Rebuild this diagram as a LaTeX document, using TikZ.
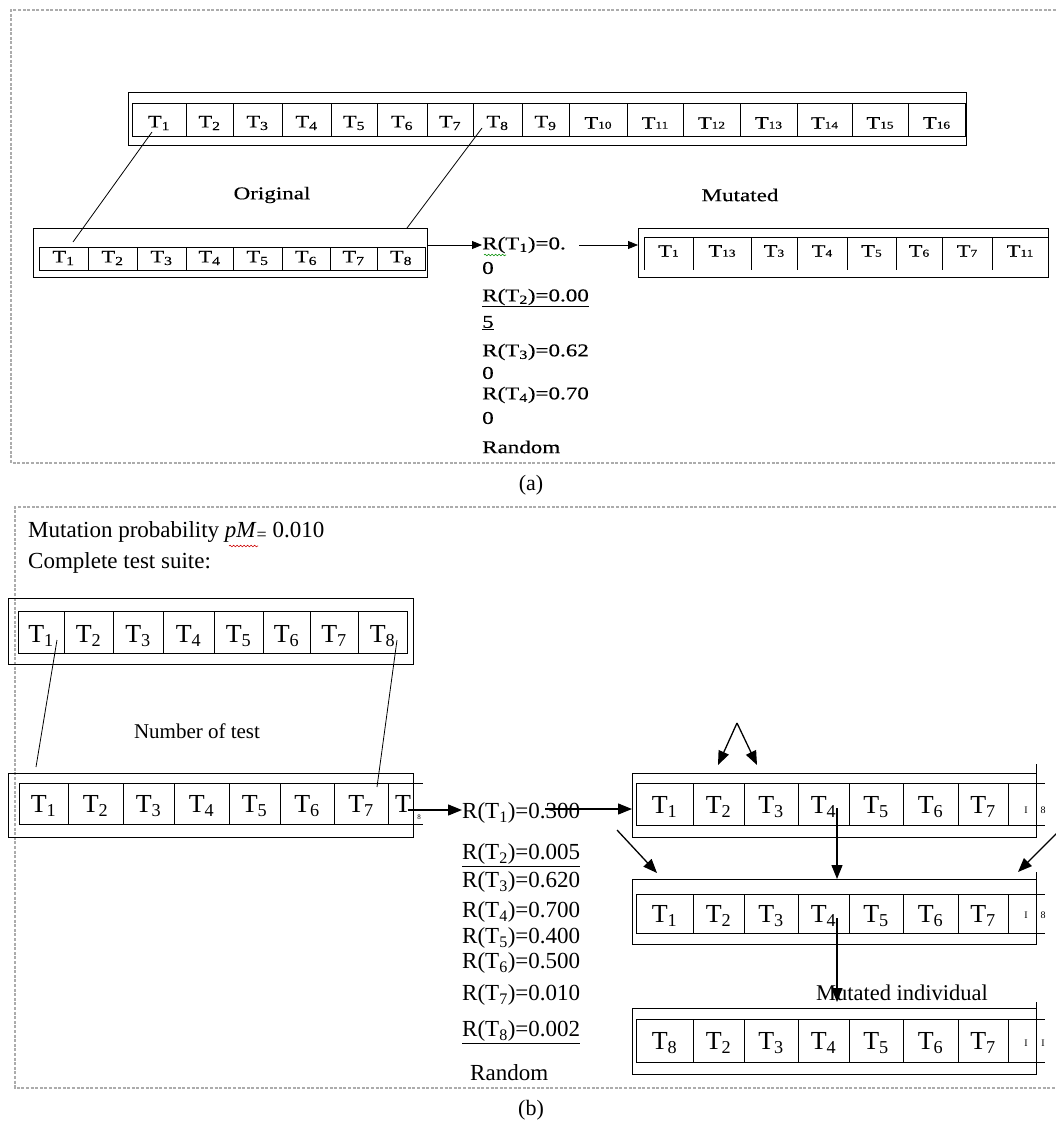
\documentclass[tikz,border=0pt]{standalone}
\usepackage{fontspec}
\setmainfont{Liberation Serif}
\newfontfamily\afont[FakeStretch=1.28,FakeBold=0.35]{Liberation Serif}
\usetikzlibrary{arrows.meta,decorations.pathmorphing}
\newcommand\Ts[1]{T\textsubscript{#1}}
\newcommand\Tq[1]{T{\fontsize{10.5}{10.5}\selectfont #1}}
\tikzset{
  frame/.style={draw=gray!65, line width=2.2pt, dash pattern=on 3pt off 1.6pt},
  grid/.style={draw, line width=0.9pt},
  obox/.style={draw, line width=1pt, inner sep=0pt, outer sep=0pt},
  celA/.style={font=\afont\fontsize{17.5}{17.5}\selectfont, inner sep=0pt},
  celB/.style={font=\fontsize{26}{26}\selectfont, inner sep=0pt},
  txtA/.style={font=\afont\fontsize{18}{18}\selectfont, inner sep=0pt},
  txtAw/.style={txtA, anchor=west},
  txtB/.style={font=\fontsize{23}{23}\selectfont, inner sep=0pt, anchor=west},
  tiny/.style={font=\fontsize{10}{10}\selectfont, inner sep=0pt},
  arrA/.style={-{Triangle[length=10pt,width=8pt]}, line width=0.8pt},
  arrB/.style={-{Triangle[length=14pt,width=11pt]}, line width=1.3pt},
  lnk/.style={line width=0.8pt},
  squig/.style={decorate, decoration={snake, amplitude=0.8pt, segment length=3.5pt}, line width=0.6pt}
}
\begin{document}
\begin{tikzpicture}[x=1pt,y=-1pt]
\useasboundingbox (0,0) rectangle (1056,1124);

% ---------- frames ----------
\draw[frame] (1056,10) -- (11,10) -- (11,463) -- (1056,463);
\draw[frame] (1056,507) -- (15,507) -- (15,1088) -- (1056,1088);

% ================= (a) =================
% top row
\node[obox, minimum width=838pt, minimum height=53pt] (topA) at (547,118.5) {};
\draw[grid] (132,103) rectangle (965,136);
\foreach \x in {186,233,282,331,377,427,473,522,569,627,683,740,797,852,908}
  \draw[grid] (\x,103) -- (\x,136);
\foreach \l/\r/\t [count=\i] in {132/186/\Ts{1},186/233/\Ts{2},233/282/\Ts{3},282/331/\Ts{4},331/377/\Ts{5},377/427/\Ts{6},427/473/\Ts{7},473/522/\Ts{8},522/569/\Ts{9},569/627/\Tq{10},627/683/\Tq{11},683/740/\Tq{12},740/797/\Tq{13},797/852/\Tq{14},852/908/\Tq{15},908/965/\Tq{16}}
  \node[celA] (ta\i) at ({(\l+\r)/2},123) {\t};

% lower-left original
\node[obox, minimum width=394pt, minimum height=49pt] (lowA) at (230,252.5) {};
\draw[grid] (39,247) rectangle (425,270);
\foreach \x in {88,137,186,233,282,330,377}
  \draw[grid] (\x,247) -- (\x,270);
\foreach \l/\r [count=\i] in {39/88,88/137,137/186,186/233,233/282,282/330,330/377,377/425}
  \node[celA] (la\i) at ({(\l+\r)/2},258) {\Ts{\i}};

% mutated
\node[obox, minimum width=410pt, minimum height=49pt] (mutA) at (843,252.5) {};
\draw[grid] (644,237) -- (1048,237);
\foreach \x in {644,693,751,797,847,896,942,992}
  \draw[grid] (\x,237) -- (\x,270);
\foreach \l/\r/\t [count=\i] in {644/693/1,693/751/13,751/797/3,797/847/4,847/896/5,896/942/6,942/992/7,992/1048/11}
  \node[celA] (ma\i) at ({(\l+\r)/2},251) {\Tq{\t}};

\node[txtA] (origA) at (272,195) {Original};
\node[txtA] (mutlA) at (740,195) {Mutated};

% R values (a)
\node[txtAw] (rA1) at (482,245) {R(\Ts{1})=0.};
\node[txtAw] (rA1b) at (482,268) {0};
\node[txtAw] (rA2) at (482,298) {\underline{R(\Ts{2})=0.00}};
\node[txtAw] (rA2b) at (482,323) {\underline{5}};
\node[txtAw] (rA3) at (482,352) {R(\Ts{3})=0.62};
\node[txtAw] (rA3b) at (482,373) {0};
\node[txtAw] (rA4) at (482,395) {R(\Ts{4})=0.70};
\node[txtAw] (rA4b) at (482,418) {0};
\node[txtAw] (randA) at (482,447) {Random};
\coordinate (sqA1) at (484,255);
\coordinate (sqA2) at (506,255);
\draw[squig, green!55!black] (sqA1) -- (sqA2);

% connectors (a)
\coordinate (pa1) at (152,132);
\coordinate (qa1) at (73,242);
\coordinate (pa8) at (482,128);
\coordinate (qa8) at (407,228);
\draw[lnk] (pa1) -- (qa1);
\draw[lnk] (pa8) -- (qa8);
\draw[arrA] (lowA.east |- rA1.west) -- (rA1.west);
\coordinate (sA2) at (579,245);
\draw[arrA] (sA2) -- (mutA.west |- sA2);

\node[font=\fontsize{22}{22}\selectfont] (labA) at (531,485) {(a)};

% ================= (b) =================
\node[txtB] (mp) at (28,532) {Mutation probability \textit{pM}{\fontsize{18}{18}\selectfont\raisebox{-3pt}{=}} 0.010};
\node[txtB] (cts) at (28,563) {Complete test suite:};
\coordinate (sqB1) at (229,546);
\coordinate (sqB2) at (258,546);
\draw[squig, red!80!black] (sqB1) -- (sqB2);

% top-left complete suite
\node[obox, minimum width=405pt, minimum height=66pt] (topB) at (210.5,631) {};
\draw[grid] (18,611) rectangle (407,653);
\foreach \x in {64,113,163,214,263,310,358}
  \draw[grid] (\x,611) -- (\x,653);
\foreach \l/\r [count=\i] in {18/64,64/113,113/163,163/214,214/263,263/310,310/358,358/407}
  \node[celB] (tb\i) at ({(\l+\r)/2},636) {\Ts{\i}};

\node[font=\fontsize{21}{21}\selectfont] (nbt) at (197,731) {Number of test};

% middle-left
\node[obox, minimum width=405pt, minimum height=64pt] (midB) at (210.5,805) {};
\draw[grid] (19,783) -- (423,783);
\draw[grid] (19,824) -- (423,824);
\foreach \x in {19,68,123,174,229,280,334,388}
  \draw[grid] (\x,783) -- (\x,824);
\foreach \l/\r [count=\i] in {19/68,68/123,123/174,174/229,229/280,280/334,334/388}
  \node[celB] (mb\i) at ({(\l+\r)/2},806) {\Ts{\i}};
\node[celB] (mb8) at (403,804) {T};
\node[tiny, font=\fontsize{7}{7}\selectfont] (mb8s) at (419,817) {8};

% connectors from suite to middle
\coordinate (pb1) at (57,640);
\coordinate (qb1) at (36,767);
\coordinate (pb8) at (397,640);
\coordinate (qb8) at (377,787);
\draw[lnk] (pb1) -- (qb1);
\draw[lnk] (pb8) -- (qb8);

% R values (b)
\node[txtB] (rB1) at (462,813) {R(\Ts{1})=0.300};
\node[txtB] (rB2) at (462,855) {\underline{R(\Ts{2})=0.005}};
\node[txtB] (rB3) at (462,882) {R(\Ts{3})=0.620};
\node[txtB] (rB4) at (462,912) {R(\Ts{4})=0.700};
\node[txtB] (rB5) at (462,938) {R(\Ts{5})=0.400};
\node[txtB] (rB6) at (462,963) {R(\Ts{6})=0.500};
\node[txtB] (rB7) at (462,995) {R(\Ts{7})=0.010};
\node[txtB] (rB8) at (462,1032) {\underline{R(\Ts{8})=0.002}};
\node[txtB] (randB) at (470,1073) {Random};

% right boxes
\foreach \nm/\cy/\ot/\ob/\it/\ib/\vt/\vb in {b1/805/773/837/783/825/764/833, b2/911.5/879/944/894/933/872/939, b3/1041/1008/1074/1019/1062/1002/1068} {
  \node[obox, minimum width=404pt, minimum height={(\ob-\ot)*1pt}] (\nm) at (834,\cy) {};
  \draw[grid] (636,\it) -- (1045,\it);
  \draw[grid] (636,\ib) -- (1045,\ib);
  \draw[grid] (1036,\vt) -- (1036,\vb);
  \foreach \x in {636,693,744,798,849,903,958,1008}
    \draw[grid] (\x,\it) -- (\x,\ib);
}
\foreach \l/\r [count=\i] in {636/693,693/744,744/798,798/849,849/903,903/958,958/1008}
  \node[celB] (r1c\i) at ({(\l+\r)/2},807) {\Ts{\i}};
\node[tiny] (r1c8) at (1026,810) {I};
\node[tiny] (r1c8s) at (1043,810) {8};
\foreach \l/\r [count=\i] in {636/693,693/744,744/798,798/849,849/903,903/958,958/1008}
  \node[celB] (r2c\i) at ({(\l+\r)/2},916) {\Ts{\i}};
\node[tiny] (r2c8) at (1026,915) {I};
\node[tiny] (r2c8s) at (1043,915) {8};
\foreach \l/\r/\t [count=\i] in {636/693/8,693/744/2,744/798/3,798/849/4,849/903/5,903/958/6,958/1008/7}
  \node[celB] (r3c\i) at ({(\l+\r)/2},1043) {\Ts{\t}};
\node[tiny] (r3c8) at (1026,1043) {I};
\node[tiny] (r3c8s) at (1043,1043) {I};

\node[font=\fontsize{22.5}{22.5}\selectfont] (mind) at (902,993) {Mutated individual};

% arrows (b)
\coordinate (sB0) at (408,810);
\draw[arrB] (sB0) -- (rB1.west |- sB0);
\coordinate (sB1) at (545,809);
\draw[arrB] (sB1) -- (b1.west |- sB1);
\coordinate (dB1) at (617,830);
\coordinate (dB1e) at (657,873);
\draw[arrB] (dB1) -- (dB1e);
\coordinate (apx) at (737,723);
\coordinate (apl) at (718,765);
\coordinate (apr) at (757,765);
\draw[arrB] (apx) -- (apl);
\draw[arrB] (apx) -- (apr);
\coordinate (v1s) at (837,808);
\draw[arrB] (v1s) -- (b2.north -| v1s);
\coordinate (dRs) at (1058,832);
\coordinate (dRe) at (1018,872);
\draw[arrB] (dRs) -- (dRe);
\coordinate (v2s) at (837,918);
\coordinate (v2e) at (837,1002);
\draw[arrB] (v2s) -- (v2e);

\node[font=\fontsize{22}{22}\selectfont] (labB) at (531,1110) {(b)};
\end{tikzpicture}
\end{document}
